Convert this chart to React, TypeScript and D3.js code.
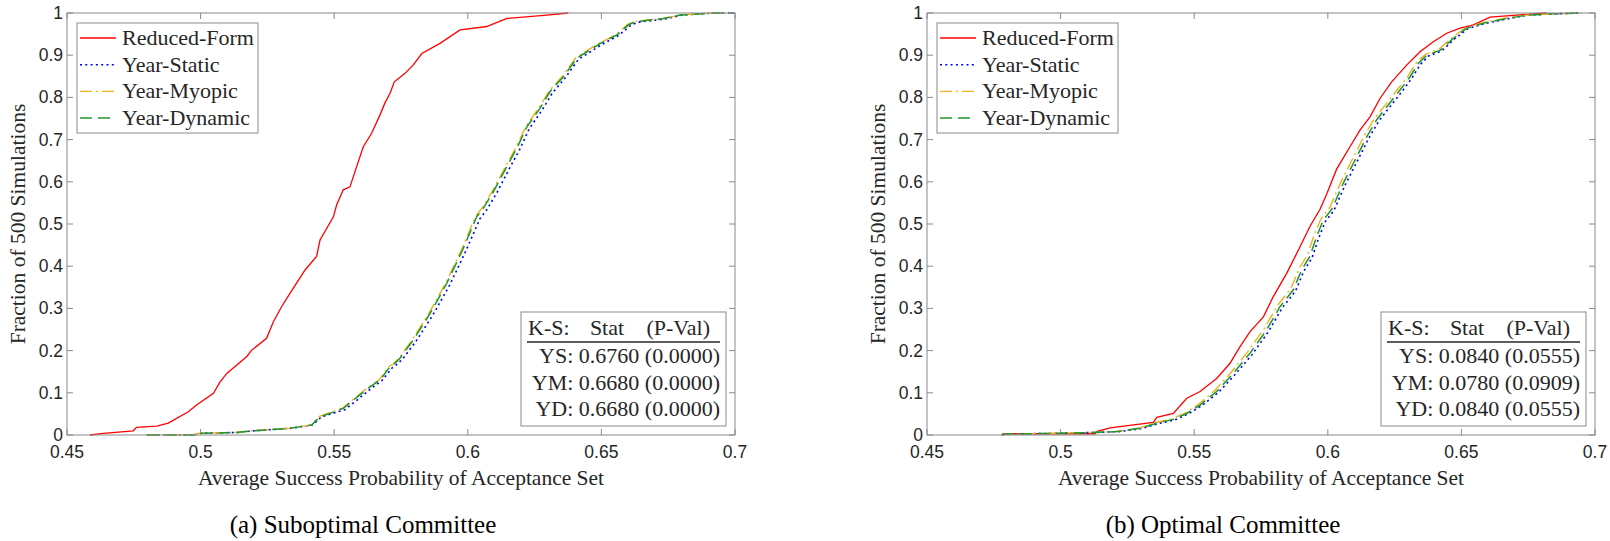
import { useEffect, useRef } from 'react';
import * as d3 from 'd3';

type Pt = [number, number];

const xTicks = [0.45, 0.5, 0.55, 0.6, 0.65, 0.7];
const yTicks = [0, 0.1, 0.2, 0.3, 0.4, 0.5, 0.6, 0.7, 0.8, 0.9, 1];

const seriesNames = ['Reduced-Form', 'Year-Static', 'Year-Myopic', 'Year-Dynamic'];
const seriesColors = ['#ff0000', '#0000ff', '#edb120', '#1f962a'];
const seriesDash = ['', '2,3.3', '12,4,2,4', '12,6'];
const seriesWidth = [1.3, 1.6, 1.4, 1.5];

const subRF: Pt[] = [
  [0.4586, 0], [0.4636, 0.004], [0.4748, 0.01], [0.476, 0.018], [0.4836, 0.021], [0.4879, 0.028],
  [0.4954, 0.055], [0.4985, 0.071], [0.5048, 0.099], [0.5073, 0.126], [0.5098, 0.146], [0.5173, 0.186],
  [0.5191, 0.201], [0.5247, 0.229], [0.5272, 0.268], [0.5303, 0.304], [0.5335, 0.336], [0.5391, 0.391],
  [0.5434, 0.423], [0.5447, 0.462], [0.5497, 0.517], [0.5509, 0.545], [0.5534, 0.581], [0.5559, 0.588],
  [0.5584, 0.636], [0.5609, 0.683], [0.564, 0.715], [0.5671, 0.758], [0.569, 0.787], [0.5709, 0.81],
  [0.5725, 0.837], [0.5765, 0.857], [0.5796, 0.877], [0.5828, 0.904], [0.5896, 0.928], [0.5971, 0.96],
  [0.6071, 0.968], [0.6146, 0.987], [0.6296, 0.995], [0.6376, 1],
];
const subYS: Pt[] = [
  [0.48, 0], [0.4975, 0], [0.5, 0.004], [0.514, 0.006], [0.52, 0.01], [0.534, 0.016], [0.542, 0.024],
  [0.5452, 0.043], [0.554, 0.06], [0.558, 0.08], [0.5642, 0.112], [0.568, 0.13], [0.5718, 0.16],
  [0.573, 0.165], [0.5756, 0.18], [0.5806, 0.222], [0.587, 0.285], [0.5932, 0.355], [0.5994, 0.438],
  [0.6045, 0.512], [0.607, 0.533], [0.6108, 0.573], [0.6156, 0.632], [0.6193, 0.675], [0.623, 0.726],
  [0.6278, 0.77], [0.6316, 0.81], [0.6364, 0.846], [0.6414, 0.89], [0.6503, 0.926], [0.6565, 0.947],
  [0.6608, 0.97], [0.6635, 0.978], [0.674, 0.986], [0.68, 0.995], [0.6925, 1], [0.6998, 1],
];
const subYM: Pt[] = [
  [0.4798, 0], [0.497, 0], [0.4995, 0.004], [0.513, 0.006], [0.5195, 0.01], [0.5332, 0.016], [0.5414, 0.024],
  [0.5445, 0.044], [0.5532, 0.064], [0.557, 0.084], [0.5631, 0.115], [0.5668, 0.131], [0.5706, 0.163],
  [0.5719, 0.167], [0.5744, 0.183], [0.5793, 0.227], [0.5856, 0.29], [0.5918, 0.361], [0.598, 0.444],
  [0.603, 0.519], [0.6055, 0.539], [0.6093, 0.579], [0.6143, 0.638], [0.618, 0.681], [0.6218, 0.732],
  [0.6267, 0.776], [0.6305, 0.816], [0.6355, 0.851], [0.6405, 0.895], [0.6494, 0.929], [0.6556, 0.949],
  [0.6598, 0.973], [0.6624, 0.98], [0.673, 0.987], [0.6794, 0.995], [0.6915, 1], [0.699, 1],
];
const subYD: Pt[] = [
  [0.4798, 0], [0.4973, 0], [0.4998, 0.004], [0.5135, 0.006], [0.5197, 0.01], [0.5335, 0.016], [0.5416, 0.024],
  [0.5447, 0.043], [0.5534, 0.063], [0.5572, 0.083], [0.5634, 0.114], [0.5671, 0.13], [0.5709, 0.162],
  [0.5721, 0.166], [0.5746, 0.182], [0.5796, 0.225], [0.5859, 0.288], [0.5921, 0.359], [0.5983, 0.442],
  [0.6033, 0.517], [0.6058, 0.537], [0.6096, 0.577], [0.6146, 0.636], [0.6183, 0.679], [0.6221, 0.73],
  [0.627, 0.774], [0.6308, 0.814], [0.6358, 0.849], [0.6408, 0.893], [0.6496, 0.928], [0.6558, 0.948],
  [0.6601, 0.972], [0.6626, 0.979], [0.6732, 0.987], [0.6796, 0.995], [0.6919, 1], [0.6993, 1],
];
const subStats = ['YS: 0.6760 (0.0000)', 'YM: 0.6680 (0.0000)', 'YD: 0.6680 (0.0000)'];

// (b) Optimal Committee
const optRF: Pt[] = [
  [0.478, 0], [0.4785, 0.003], [0.5129, 0.003], [0.5135, 0.008], [0.5185, 0.017], [0.5347, 0.03],
  [0.536, 0.042], [0.5422, 0.051], [0.5472, 0.087], [0.5522, 0.103], [0.5584, 0.134], [0.5634, 0.17],
  [0.5671, 0.209], [0.5709, 0.245], [0.5759, 0.28], [0.5796, 0.328], [0.5846, 0.383], [0.5896, 0.446],
  [0.5933, 0.494], [0.5971, 0.535], [0.5996, 0.571], [0.6033, 0.63], [0.6083, 0.683], [0.6121, 0.723],
  [0.6158, 0.754], [0.6196, 0.798], [0.6239, 0.837], [0.6296, 0.877], [0.6345, 0.908], [0.6395, 0.932],
  [0.6445, 0.952], [0.6495, 0.964], [0.6545, 0.972], [0.6607, 0.99], [0.6707, 0.995], [0.677, 0.998],
  [0.682, 1],
];
const optYS: Pt[] = [
  [0.478, 0], [0.4792, 0.002], [0.4978, 0.004], [0.5128, 0.006], [0.5216, 0.008], [0.5303, 0.015],
  [0.5366, 0.027], [0.5428, 0.036], [0.5478, 0.05], [0.5529, 0.07], [0.5591, 0.101], [0.5654, 0.144],
  [0.5717, 0.191], [0.5779, 0.246], [0.5829, 0.301], [0.5879, 0.341], [0.591, 0.388], [0.5941, 0.42],
  [0.5966, 0.467], [0.5991, 0.506], [0.6023, 0.532], [0.6066, 0.594], [0.6104, 0.641], [0.6154, 0.704],
  [0.6191, 0.744], [0.6229, 0.775], [0.6279, 0.815], [0.6315, 0.846], [0.6346, 0.878], [0.6377, 0.898],
  [0.6426, 0.91], [0.6475, 0.939], [0.6524, 0.963], [0.6587, 0.975], [0.6673, 0.986], [0.6748, 0.995],
  [0.6848, 0.998], [0.695, 1],
];
const optYM: Pt[] = [
  [0.478, 0], [0.479, 0.002], [0.497, 0.004], [0.5118, 0.006], [0.5205, 0.008], [0.5292, 0.016],
  [0.5354, 0.029], [0.5416, 0.038], [0.5466, 0.052], [0.5515, 0.072], [0.5576, 0.105], [0.5638, 0.148],
  [0.57, 0.197], [0.5762, 0.252], [0.5812, 0.307], [0.5862, 0.347], [0.5893, 0.395], [0.5924, 0.427],
  [0.5949, 0.474], [0.5975, 0.513], [0.6007, 0.539], [0.605, 0.601], [0.6088, 0.648], [0.6138, 0.711],
  [0.6176, 0.751], [0.6214, 0.781], [0.6264, 0.821], [0.6302, 0.852], [0.6333, 0.884], [0.6366, 0.902],
  [0.6416, 0.914], [0.6466, 0.942], [0.6516, 0.965], [0.658, 0.977], [0.6668, 0.988], [0.6744, 0.995],
  [0.6842, 0.998], [0.6942, 1],
];
const optYD: Pt[] = [
  [0.478, 0], [0.479, 0.002], [0.4973, 0.004], [0.5122, 0.006], [0.521, 0.008], [0.5297, 0.016],
  [0.536, 0.028], [0.5422, 0.037], [0.5472, 0.051], [0.5522, 0.071], [0.5584, 0.103], [0.5646, 0.146],
  [0.5709, 0.194], [0.5771, 0.249], [0.5821, 0.304], [0.5871, 0.344], [0.5902, 0.391], [0.5933, 0.423],
  [0.5958, 0.47], [0.5983, 0.509], [0.6015, 0.535], [0.6058, 0.597], [0.6096, 0.644], [0.6146, 0.707],
  [0.6183, 0.747], [0.6221, 0.778], [0.6271, 0.818], [0.6308, 0.849], [0.6339, 0.881], [0.6371, 0.9],
  [0.6421, 0.912], [0.647, 0.94], [0.652, 0.964], [0.6583, 0.976], [0.667, 0.987], [0.6745, 0.995],
  [0.6844, 0.998], [0.6944, 1],
];
const optStats = ['YS: 0.0840 (0.0555)', 'YM: 0.0780 (0.0909)', 'YD: 0.0840 (0.0555)'];

const panels = [
  { left: 67, series: [subRF, subYS, subYM, subYD], stats: subStats, caption: '(a) Suboptimal Committee' },
  { left: 927, series: [optRF, optYS, optYM, optYD], stats: optStats, caption: '(b) Optimal Committee' },
];

const plotW = 668;
const top = 13;
const bottom = 435;
const serif = '"Liberation Serif", "Times New Roman", serif';
const sans = '"Liberation Sans", Arial, sans-serif';
const textColor = '#262626';
const axisColor = '#8a8a8a';

function App() {
  const svgRef = useRef<SVGSVGElement>(null);

  useEffect(() => {
    if (svgRef.current === null) return;
    const svg = d3.select(svgRef.current);
    svg.selectAll('*').remove();

    panels.forEach((p) => {
      const right = p.left + plotW;
      const x = d3.scaleLinear().domain([0.45, 0.7]).range([p.left, right]);
      const y = d3.scaleLinear().domain([0, 1]).range([bottom, top]);
      const g = svg.append('g');

      // curves
      const line = d3
        .line<Pt>()
        .x((d) => x(d[0]))
        .y((d) => y(d[1]));
      p.series.forEach((s, i) => {
        g.append('path')
          .attr('d', line(s))
          .attr('fill', 'none')
          .attr('stroke', seriesColors[i])
          .attr('stroke-width', seriesWidth[i])
          .attr('stroke-dasharray', seriesDash[i] || null);
      });

      // box + inward ticks
      g.append('rect')
        .attr('x', p.left)
        .attr('y', top)
        .attr('width', plotW)
        .attr('height', bottom - top)
        .attr('fill', 'none')
        .attr('stroke', axisColor)
        .attr('stroke-width', 1);

      xTicks.forEach((t) => {
        g.append('line').attr('x1', x(t)).attr('x2', x(t)).attr('y1', bottom).attr('y2', bottom - 6)
          .attr('stroke', axisColor);
        g.append('line').attr('x1', x(t)).attr('x2', x(t)).attr('y1', top).attr('y2', top + 6)
          .attr('stroke', axisColor);
        g.append('text')
          .attr('x', x(t))
          .attr('y', 458)
          .attr('text-anchor', 'middle')
          .attr('font-family', sans)
          .attr('font-size', 17.5)
          .attr('fill', textColor)
          .text(String(t));
      });
      yTicks.forEach((t) => {
        g.append('line').attr('x1', p.left).attr('x2', p.left + 6).attr('y1', y(t)).attr('y2', y(t))
          .attr('stroke', axisColor);
        g.append('line').attr('x1', right).attr('x2', right - 6).attr('y1', y(t)).attr('y2', y(t))
          .attr('stroke', axisColor);
        g.append('text')
          .attr('x', p.left - 4)
          .attr('y', y(t))
          .attr('dy', '0.34em')
          .attr('text-anchor', 'end')
          .attr('font-family', sans)
          .attr('font-size', 17.5)
          .attr('fill', textColor)
          .text(String(t));
      });

      // axis labels
      g.append('text')
        .attr('x', (p.left + right) / 2)
        .attr('y', 485)
        .attr('text-anchor', 'middle')
        .attr('font-family', serif)
        .attr('font-size', 21.5)
        .attr('fill', textColor)
        .text('Average Success Probability of Acceptance Set');
      g.append('text')
        .attr('transform', `translate(${p.left - 42}, ${(top + bottom) / 2}) rotate(-90)`)
        .attr('text-anchor', 'middle')
        .attr('font-family', serif)
        .attr('font-size', 21.5)
        .attr('fill', textColor)
        .text('Fraction of 500 Simulations');

      // caption
      g.append('text')
        .attr('x', (p.left + right) / 2 - 38)
        .attr('y', 533)
        .attr('text-anchor', 'middle')
        .attr('font-family', serif)
        .attr('font-size', 25)
        .attr('fill', '#000')
        .text(p.caption);

      // legend
      const lx = p.left + 10;
      const ly = top + 10;
      const leg = g.append('g');
      leg.append('rect')
        .attr('x', lx).attr('y', ly).attr('width', 181).attr('height', 110)
        .attr('fill', '#fff').attr('stroke', axisColor);
      seriesNames.forEach((name, i) => {
        const ry = ly + 15 + i * 26.7;
        leg.append('line')
          .attr('x1', lx + 3).attr('x2', lx + 39).attr('y1', ry).attr('y2', ry)
          .attr('stroke', seriesColors[i])
          .attr('stroke-width', seriesWidth[i])
          .attr('stroke-dasharray', seriesDash[i] || null);
        leg.append('text')
          .attr('x', lx + 45)
          .attr('y', ry + 7)
          .attr('font-family', serif)
          .attr('font-size', 22)
          .attr('fill', textColor)
          .text(name);
      });

      // K-S stats box
      const bw = 205;
      const bx = right - 9 - bw;
      const by = 312;
      const box = g.append('g');
      box.append('rect')
        .attr('x', bx).attr('y', by).attr('width', bw).attr('height', 114)
        .attr('fill', '#fff').attr('stroke', axisColor);
      const head = [
        { t: 'K-S:', x: bx + 7, a: 'start' },
        { t: 'Stat', x: bx + 86, a: 'middle' },
        { t: '(P-Val)', x: bw + bx - 16, a: 'end' },
      ];
      head.forEach((h) => {
        box.append('text')
          .attr('x', h.x).attr('y', by + 23)
          .attr('text-anchor', h.a)
          .attr('font-family', serif).attr('font-size', 22).attr('fill', textColor)
          .text(h.t);
      });
      box.append('line')
        .attr('x1', bx + 6).attr('x2', bx + bw - 6).attr('y1', by + 30).attr('y2', by + 30)
        .attr('stroke', textColor).attr('stroke-width', 1.3);
      p.stats.forEach((s, i) => {
        box.append('text')
          .attr('x', bx + bw - 6).attr('y', by + 51 + i * 26.5)
          .attr('text-anchor', 'end')
          .attr('font-family', serif).attr('font-size', 22).attr('fill', textColor)
          .text(s);
      });
    });
  }, [svgRef]);

  return (
    <svg
      ref={svgRef}
      width={1610}
      height={541}
      style={{ position: 'absolute', left: 0, top: 0, background: '#fff' }}
    />
  );
}

export default App;
